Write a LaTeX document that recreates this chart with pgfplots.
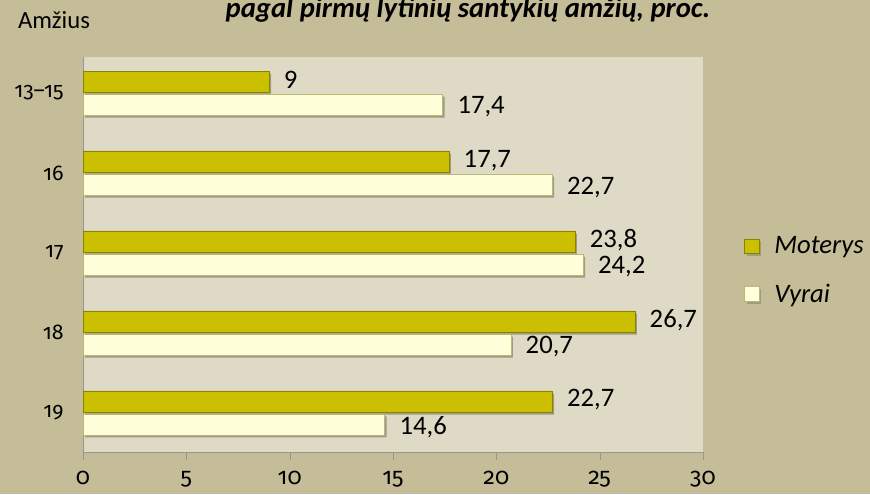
\documentclass[border=0pt]{standalone}
\usepackage{pgfplots}
\pgfplotsset{compat=1.18}
\usepackage{fontspec}
\setmainfont{Carlito}
\newfontfamily\oldnum{Fira Sans}[Numbers=OldStyle]
\definecolor{bgc}{RGB}{197,189,152}
\definecolor{plotc}{RGB}{222,218,198}
\definecolor{mfill}{RGB}{202,192,0}
\definecolor{medge}{RGB}{140,130,0}
\definecolor{vfill}{RGB}{255,255,218}
\definecolor{vedge}{RGB}{185,182,120}
\definecolor{axc}{RGB}{150,150,150}
\definecolor{shad}{RGB}{160,156,130}
\begin{document}
\begin{tikzpicture}
\useasboundingbox (0,0) rectangle (652.5pt,370.5pt);
\clip (0,0) rectangle (652.5pt,370.5pt);
\fill[bgc] (0,0) rectangle (652.5pt,370.5pt);
\node[anchor=base,font=\fontsize{21.5}{24}\selectfont\bfseries\itshape] at (351pt,357.5pt) {pagal pirmų lytinių santykių amžių, proc.};
\node[anchor=base,font=\fontsize{18.5}{21}\selectfont] at (40.5pt,348.75pt) {Amžius};
\begin{axis}[
  at={(62.25pt,31.5pt)}, anchor=south west,
  scale only axis, width=465pt, height=296.25pt,
  xbar, bar width=15.75pt,
  xmin=0, xmax=30, ymin=-0.45, ymax=4.49, y dir=reverse,
  axis x line*=bottom, axis y line*=left,
  axis line style={axc,-},
  axis background/.style={fill=plotc},
  xtick={0,5,...,30}, ytick={0,1,2,3,4},
  yticklabels={13–15,16,17,18,19},
  tick align=outside, major tick length=6pt,
  xtick style={axc},
  ytick style={draw=none},
  /pgf/number format/assume math mode=true,
  xticklabel style={font=\fontsize{17.5}{20}\selectfont\oldnum, yshift=-5pt},
  yticklabel style={font=\fontsize{16}{19}\selectfont\oldnum, xshift=-5pt},
  nodes near coords,
  nodes near coords style={font=\fontsize{20}{24}\selectfont, inner sep=0pt, /pgf/number format/use comma, xshift=11pt},
  legend style={at={(1.06,0.46)}, anchor=west, draw=none, fill=none,
    font=\fontsize{20}{23}\selectfont\itshape, row sep=17pt, column sep=9pt},
  legend cell align=left,
  legend image code/.code={\draw[#1] (0pt,-5.5pt) rectangle (11pt,5.5pt);},
]
\addplot[bar shift=8.6pt, draw=medge, fill=mfill,
  nodes near coords style={yshift=1pt},
  preaction={fill=shad, draw=none, transform canvas={xshift=1.5pt,yshift=-2pt}}] coordinates {(9,0) (17.7,1) (23.8,2) (26.7,3) (22.7,4)};
\addplot[bar shift=-8.6pt, draw=vedge, fill=vfill,
  nodes near coords style={yshift=-2pt},
  preaction={fill=shad, draw=none, transform canvas={xshift=1.5pt,yshift=-2pt}}] coordinates {(17.4,0) (22.7,1) (24.2,2) (20.7,3) (14.6,4)};
\legend{Moterys,Vyrai}
\end{axis}
\end{tikzpicture}
\end{document}
